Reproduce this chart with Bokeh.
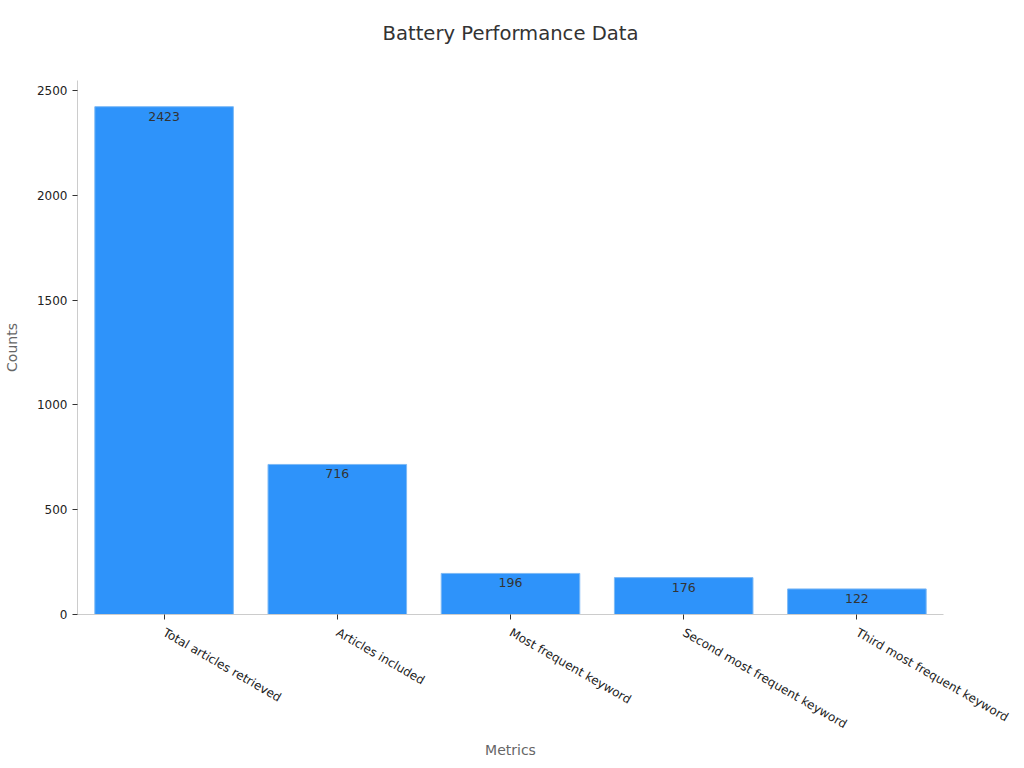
import math
from bokeh.plotting import figure
from bokeh.models import ColumnDataSource, Range1d, LabelSet, Title
from bokeh.core.properties import value
from bokeh.embed import file_html
from bokeh.resources import INLINE

title_text = "Battery Performance Data"
categories = ["Total articles retrieved", "Articles included", "Most frequent keyword",
              "Second most frequent keyword", "Third most frequent keyword"]
counts = [2423, 716, 196, 176, 122]

FONT = "DejaVu Sans"

src = ColumnDataSource(data=dict(cat=categories, val=counts, lab=[str(c) for c in counts]))

p = figure(x_range=categories, y_range=Range1d(0, 2548), width=1024, height=768,
           output_backend="svg", toolbar_location=None, title=title_text,
           min_border_left=76, min_border_right=81, min_border_bottom=154, min_border_top=80)

p.vbar(x="cat", top="val", width=0.8, source=src, fill_color="#2E93FA",
       line_color="#7DB9F5", line_width=1)

labels = LabelSet(x="cat", y="val", text="lab", source=src, text_align="center",
                  text_baseline="top", y_offset=-5, text_font=value(FONT),
                  text_font_size="12.5px", text_color="#333333")
p.add_layout(labels)

p.title.text_font = FONT
p.title.text_font_size = "19.6px"
p.title.text_font_style = "normal"
p.title.text_color = "#333333"
p.title.align = "center"
p.title.standoff = 20
p.title.offset = 2

spacer = Title(text=" ", text_font_size="1px", standoff=23)
p.add_layout(spacer, "above")

p.xgrid.visible = False
p.ygrid.visible = False
p.outline_line_color = None
p.background_fill_color = "white"
p.border_fill_color = "white"

for ax in (p.xaxis[0], p.yaxis[0]):
    ax.axis_line_color = "#cccccc"
    ax.major_tick_line_color = "#333333"
    ax.minor_tick_line_color = None
    ax.major_tick_out = 5
    ax.major_tick_in = 0
    ax.major_label_text_font = FONT
    ax.major_label_text_font_size = "12px"
    ax.major_label_text_color = "#222222"
    ax.axis_label_text_font = FONT
    ax.axis_label_text_font_size = "14px"
    ax.axis_label_text_font_style = "normal"
    ax.axis_label_text_color = "#666666"

p.xaxis.axis_label = "Metrics"
p.yaxis.axis_label = "Counts"
p.xaxis.major_label_orientation = -math.pi / 6
p.xaxis.major_label_standoff = 12
p.xaxis.axis_label_standoff = 2
p.yaxis.axis_label_standoff = 14
p.yaxis.ticker = [0, 500, 1000, 1500, 2000, 2500]

open("out.html", "w").write(file_html(p, INLINE))
